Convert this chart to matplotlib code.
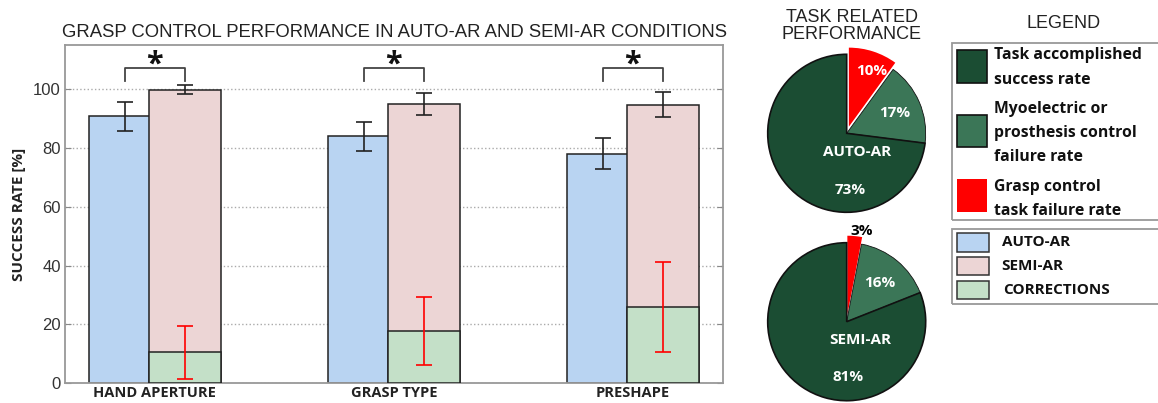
import numpy as np
import matplotlib
matplotlib.use('Agg')
import matplotlib.pyplot as plt
from matplotlib.patches import Rectangle

# bar chart data (success rate, %)
tasks = ['HAND APERTURE', 'GRASP TYPE', 'PRESHAPE']
auto_ar = [90.8, 83.9, 78.1]
auto_ar_err = [4.9, 4.8, 5.3]
semi_ar = [99.8, 95.0, 94.7]
semi_ar_err = [1.5, 3.8, 4.2]
corrections = [10.5, 17.8, 25.9]
corrections_err = [9.1, 11.6, 15.3]

# pie data (task related performance, %)
pie_auto = [10, 17, 73]
pie_semi = [3, 16, 81]
pie_names = ['AUTO-AR', 'SEMI-AR']

legend_top = ['Task accomplished\nsuccess rate',
              'Myoelectric or\nprosthesis control\nfailure rate',
              'Grasp control\ntask failure rate']
legend_bottom = ['AUTO-AR', 'SEMI-AR', 'CORRECTIONS']

c_auto = '#b9d4f2'
c_semi = '#ecd5d5'
c_corr = '#c4e0c8'
c_ok = '#1b4d33'
c_myo = '#3b7657'
c_grasp = '#ff0000'

W, H = 1158, 403
fig = plt.figure(figsize=(W / 100, H / 100), dpi=100)

bold = 'Open Sans'
plain = 'Liberation Sans'

# ---- bar chart ----
ax = fig.add_axes([65 / W, (H - 383.3) / H, 658 / W, 338.3 / H])
x = np.arange(len(tasks))
bw = 0.301
xa = x + 0.151
xs = xa + 0.251
ax.bar(xa, auto_ar, bw, color=c_auto, edgecolor='#222222', lw=1.1, zorder=2)
ax.bar(xs, semi_ar, bw, color=c_semi, edgecolor='#222222', lw=1.1, zorder=3)
ax.bar(xs, corrections, bw, color=c_corr, edgecolor='#222222', lw=1.1, zorder=4)
ax.errorbar(xa, auto_ar, yerr=auto_ar_err, fmt='none', ecolor='#222222',
            elinewidth=1.2, capsize=6, capthick=1.2, zorder=5)
ax.errorbar(xs, semi_ar, yerr=semi_ar_err, fmt='none', ecolor='#222222',
            elinewidth=1.2, capsize=6, capthick=1.2, zorder=5)
ax.errorbar(xs, corrections, yerr=corrections_err, fmt='none', ecolor='#ff0000',
            elinewidth=1.2, capsize=6, capthick=1.2, zorder=5)

# significance brackets
for a, s in zip(xa, xs):
    ax.plot([a, a, s, s], [102.8, 107.1, 107.1, 102.8], color='#444444', lw=1.3,
            clip_on=False, zorder=5)
    ax.text((a + s) / 2, 108.5, '*', ha='center', va='center', fontsize=22,
            fontweight='bold', family=bold, color='#111111')

ax.set_xlim(-0.099, 2.654)
ax.set_ylim(0, 115)
ax.set_yticks(range(0, 101, 20))
ax.set_xticks(x + 0.277)
ax.set_xticklabels(tasks, fontsize=10.5, fontweight='bold', family=bold, color='#222222')
ax.tick_params(axis='x', length=0, pad=2)
ax.tick_params(axis='y', labelsize=12, labelcolor='#333333', direction='in',
               length=4, right=True, color='#888888', pad=3)
for lab in ax.get_yticklabels():
    lab.set_family(plain)
ax.yaxis.grid(True, linestyle=':', color='#aaaaaa', lw=1)
ax.set_axisbelow(True)
for sp in ax.spines.values():
    sp.set_color('#999999')
    sp.set_linewidth(1.3)
ax.set_ylabel('SUCCESS RATE [%]', fontsize=11, fontweight='bold', family=bold,
              color='#222222', labelpad=5)
ax.set_title('GRASP CONTROL PERFORMANCE IN AUTO-AR AND SEMI-AR CONDITIONS',
             fontsize=13.3, family=plain, color='#222222', pad=6)

# ---- pies and legends (overlay in pixel units, y up) ----
ov = fig.add_axes([0, 0, 1, 1])
ov.patch.set_alpha(0)

pie_colors = [c_grasp, c_myo, c_ok]
centers = [(846.7, H - 133.3), (846.7, H - 321.7)]
explodes = [(7, 0, 0), (7, 0, 0)]
for vals, cen, exp in zip([pie_auto, pie_semi], centers, explodes):
    wedges, _ = ov.pie(vals, colors=pie_colors, startangle=90, counterclock=False,
                       center=cen, radius=79, explode=exp, frame=True,
                       wedgeprops=dict(edgecolor='#111111', linewidth=1.2))
    wedges[0].set_edgecolor('none')
    wedges[1].set_linewidth(0.6)

ov.set_xlim(0, W)
ov.set_ylim(0, H)
ov.set_aspect('auto')
ov.axis('off')

pie_txt = dict(ha='center', va='center', color='white', fontsize=11,
               fontweight='bold', family=bold)
ov.text(871.7, H - 71, f'{pie_auto[0]}%', **pie_txt)
ov.text(894.3, H - 113.3, f'{pie_auto[1]}%', **pie_txt)
ov.text(856.7, H - 151.7, pie_names[0], **pie_txt)
ov.text(850, H - 190, f'{pie_auto[2]}%', **pie_txt)
ov.text(861.7, H - 230.7, f'{pie_semi[0]}%', **dict(pie_txt, color='black'))
ov.text(879.3, H - 283.3, f'{pie_semi[1]}%', **pie_txt)
ov.text(860.7, H - 340, pie_names[1], **pie_txt)
ov.text(847.7, H - 376.7, f'{pie_semi[2]}%', **pie_txt)

ov.text(851.7, H - 26, 'TASK RELATED\nPERFORMANCE', ha='center', va='center',
        fontsize=13, family=plain, color='#222222', linespacing=1.05)
ov.text(1063.3, H - 24, 'LEGEND', ha='center', va='center', fontsize=13,
        family=plain, color='#222222')

# legend frames
ov.add_patch(Rectangle((951.7, H - 220), 220, 177.3, fill=False, ec='#999999', lw=1.3))
ov.add_patch(Rectangle((951.7, H - 304), 220, 74.7, fill=False, ec='#999999', lw=1.3))

leg_txt = dict(ha='left', va='center', fontsize=11.3, fontweight='bold', family=bold,
               color='#111111', linespacing=1.7)
top_boxes = [(50, 82.7), (115, 146.7), (179.3, 211.7)]
top_text_y = [67.5, 133, 199]
for lab, col, (y0, y1), ty in zip(legend_top, [c_ok, c_myo, c_grasp], top_boxes, top_text_y):
    ov.add_patch(Rectangle((957.3, H - y1), 30, y1 - y0, fc=col,
                           ec='#111111' if col != c_grasp else 'none', lw=1.2))
    ov.text(994, H - ty, lab, **leg_txt)

bot_boxes = [(233.3, 251.7), (257.3, 275.3), (281, 299)]
bot_text_x = [1001.7, 1001.7, 1003.3]
for lab, col, (y0, y1), tx in zip(legend_bottom, [c_auto, c_semi, c_corr], bot_boxes, bot_text_x):
    ov.add_patch(Rectangle((957.3, H - y1), 32, y1 - y0, fc=col, ec='#333333', lw=1.1))
    ov.text(tx, H - (y0 + y1) / 2, lab, **dict(leg_txt, fontsize=11))

fig.savefig('out.png', dpi=100)
